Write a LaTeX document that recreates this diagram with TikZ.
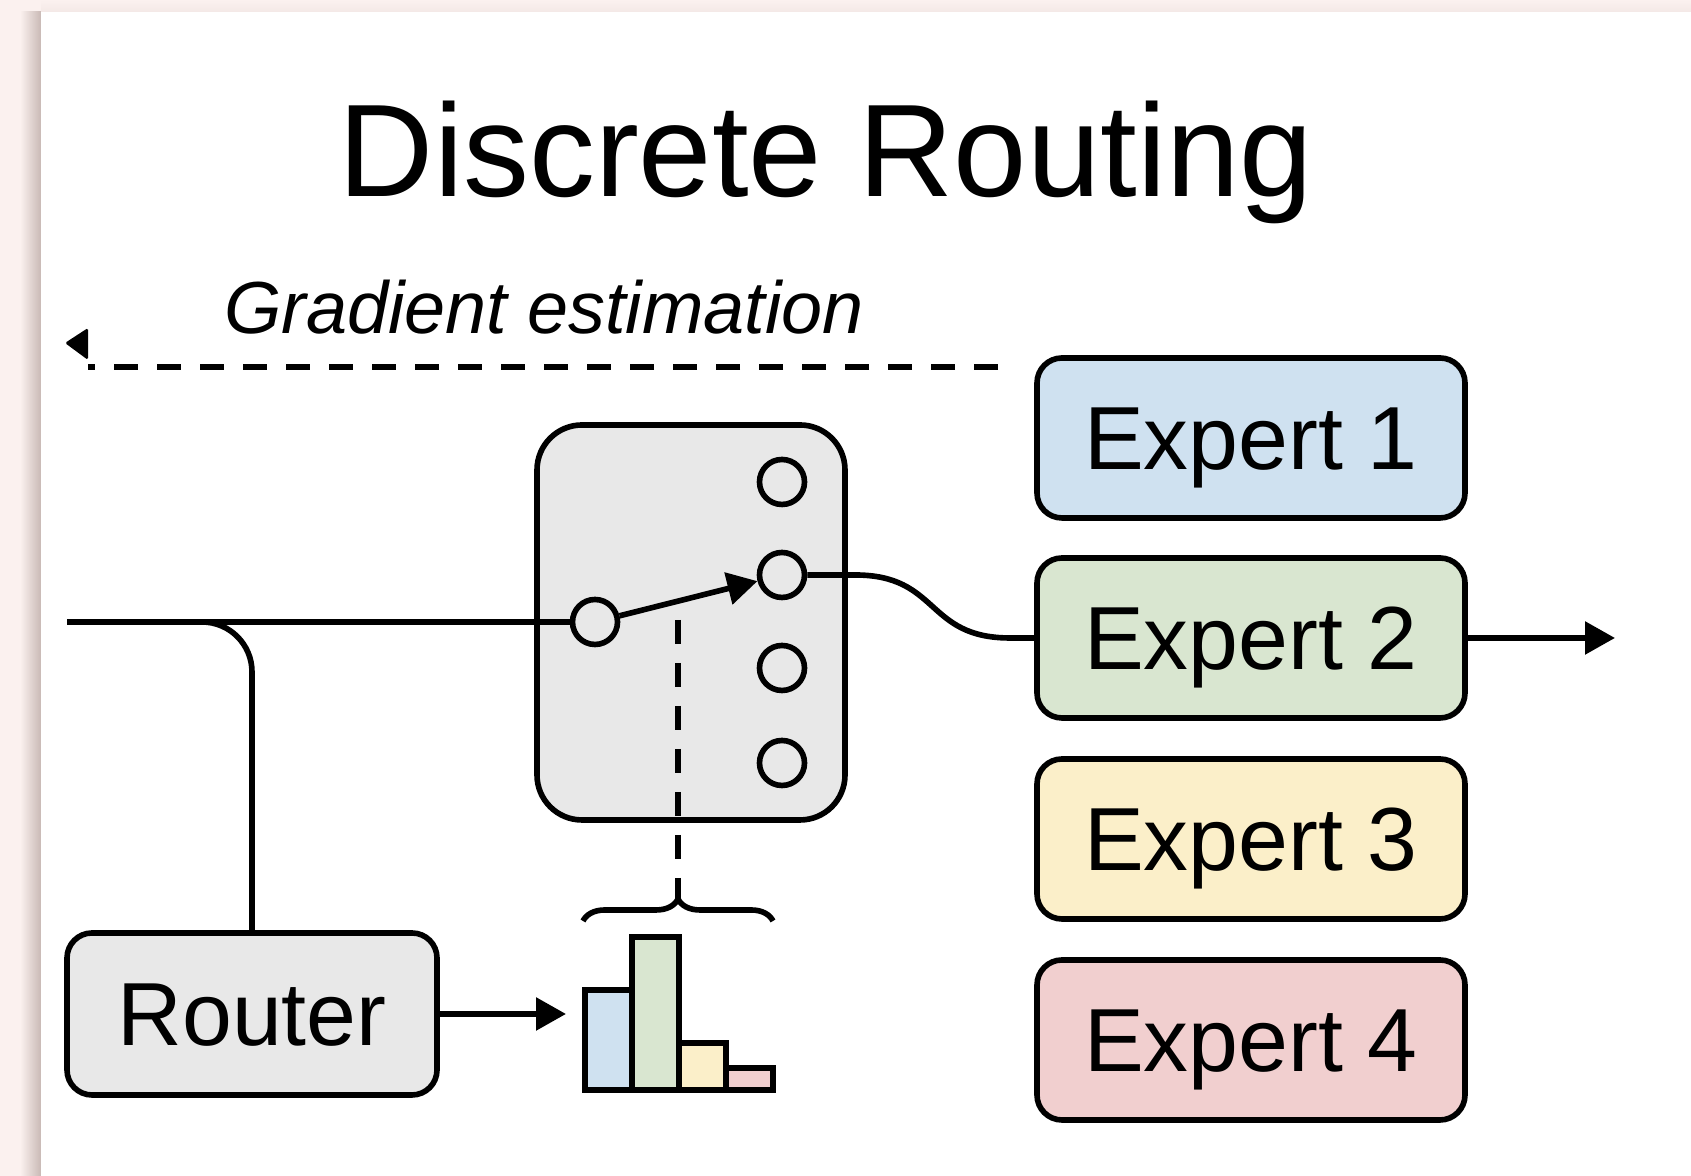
\documentclass[tikz,border=0pt]{standalone}
\usepackage{fontspec}
\setmainfont{Liberation Sans}
\usetikzlibrary{arrows.meta,decorations.pathreplacing}

\definecolor{bgpink}{HTML}{FBF1EF}
\definecolor{shadowpink}{HTML}{C9B9B5}
\definecolor{boxgray}{HTML}{E8E8E8}
\definecolor{expblue}{HTML}{CFE1F0}
\definecolor{expgreen}{HTML}{D9E6D0}
\definecolor{expyellow}{HTML}{FBEFC9}
\definecolor{exppink}{HTML}{F1CFCF}

\tikzset{
  expert/.style={draw, rounded corners=0.25cm, minimum width=4.28cm, minimum height=1.6cm,
    font=\fontsize{25.5}{30}\selectfont, text height=0.64cm, text depth=0pt},
  port/.style={draw, circle, minimum size=0.45cm, inner sep=0pt},
  tip/.style={-{Triangle[length=0.3cm,width=0.32cm]}},
  gradline/.style={dash pattern=on 0.24cm off 0.19cm},
}

\begin{document}
\begin{tikzpicture}[line width=1.6pt]
                \useasboundingbox (0,0) rectangle (16.91,11.76);
                % page and panel
                \fill[bgpink] (0,0) rectangle (16.91,11.76);
                \shade[left color=bgpink, right color=shadowpink] (0.2,0) rectangle (0.41,11.64);
                \shade[top color=bgpink, bottom color=bgpink!85!shadowpink] (0.41,11.64) rectangle (16.91,11.76);
                \fill[white] (0.41,0) rectangle (16.91,11.64);
                % texts
                \node[font=\fontsize{37.5}{45}\selectfont, anchor=base] (title) at (8.26,9.79) {Discrete Routing};
                \node[font=\fontsize{21}{25}\selectfont\itshape, anchor=base] (grad) at (5.44,8.42) {Gradient estimation};
                % gradient estimation line
                \coordinate (gstart) at (9.98,8.09);
                \coordinate (gend) at (0.88,8.09);
                \draw[gradline] (gstart) -- (gend);
                \fill[rounded corners=0.5pt] (0.88,8.48) -- (0.65,8.33) -- (0.88,8.16) -- cycle;
                % experts
                \node[expert, fill=expblue] (e1) at (12.51,7.38) {Expert 1};
                \node[expert, fill=expgreen] (e2) at (12.51,5.38) {Expert 2};
                \node[expert, fill=expyellow] (e3) at (12.51,3.37) {Expert 3};
                \node[expert, fill=exppink] (e4) at (12.51,1.36) {Expert 4};
                % router
                \node[expert, fill=boxgray, minimum width=3.7cm, minimum height=1.62cm] (router) at (2.52,1.62) {Router};
                % switch
                \node[draw, fill=boxgray, rounded corners=0.45cm, minimum width=3.08cm, minimum height=3.95cm] (sw) at (6.91,5.535) {};
                \node[port] (cin) at (5.95,5.54) {};
                \foreach \i/\y in {1/6.94,2/6.01,3/5.08,4/4.13}
                    \node[port] (c\i) at (7.82,\y) {};
                \draw[tip] (cin) -- (c2);
                % input line and branch to router
                \coordinate (in) at (0.67,5.54);
                \coordinate (split) at (1.95,5.54);
                \draw (in) -- (cin);
                \draw[rounded corners=0.5cm] (split) -| (router.north);
                % chosen expert
                \draw (c2) -- (8.55,6.01) .. controls (9.4,6.01) and (9.25,5.38) .. (10.1,5.38) -- (e2);
                \coordinate (out) at (16.15,5.38);
                \draw[tip] (e2) -- (out);
                % router scores
                \coordinate (hist) at (5.66,1.62);
                \draw[tip] (router) -- (hist);
                \foreach \x/\h/\c in {5.85/1.86/expblue, 6.32/2.39/expgreen, 6.79/1.33/expyellow, 7.26/1.08/exppink}
                    \filldraw[fill=\c] (\x,0.86) rectangle (\x+0.47,\h);
                \draw[decorate, decoration={brace, amplitude=0.22cm}] (5.83,2.55) -- (7.73,2.55);
                \coordinate (btip) at (6.78,2.77);
                \coordinate (dtop) at (6.78,5.56);
                \draw[gradline] (dtop) -- (btip);
\end{tikzpicture}
\end{document}
